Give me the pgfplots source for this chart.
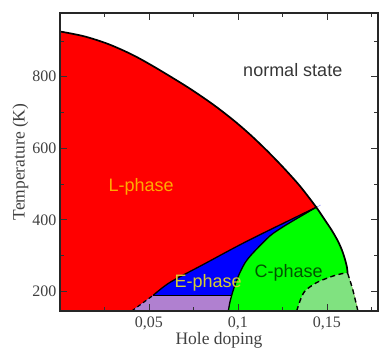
\documentclass[border=0pt]{standalone}
\usepackage{fontspec}
\setmainfont{Liberation Serif}
\newfontfamily\labelsans{Liberation Sans}
\usepackage{pgfplots}
\pgfplotsset{compat=1.18}
\definecolor{lorange}{RGB}{255,170,0}
\definecolor{eyellow}{RGB}{215,205,50}
\definecolor{cgreen}{RGB}{0,85,0}
\definecolor{purp}{RGB}{176,128,208}
\definecolor{lgreen}{RGB}{128,226,128}
\definecolor{pgreen}{RGB}{0,255,0}
\definecolor{nstate}{RGB}{55,55,55}
\begin{document}
\begin{tikzpicture}
\useasboundingbox (-60pt,-38pt) rectangle (319pt,311pt);
\begin{axis}[
  scale only axis, width=318pt, height=298pt,
  xmin=0, xmax=0.1787, ymin=145, ymax=978,
  axis on top,
  xtick={0.05,0.1,0.15}, xticklabels={{0,05},{0,1},{0,15}},
  minor xtick={0.025,0.075,0.125,0.175},
  ytick={200,400,600,800}, yticklabels={200,400,600,800},
  minor ytick={300,500,700,900},
  tick align=inside, xtick pos=both, ytick pos=both,
  major tick length=7pt, minor tick length=4pt,
  every tick/.style={black!80, line width=0.8pt},
  axis line style={black!85, line width=1.3pt},
  /pgf/number format/assume math mode=true,
  tick label style={font=\rmfamily\fontsize{16}{18}\selectfont, text=black!75, inner sep=0pt},
  yticklabel style={anchor=east, xshift=-3.5pt},
  xticklabel style={anchor=north, yshift=-6pt},
  xlabel={Hole doping}, ylabel={Temperature (K)},
  label style={font=\rmfamily\fontsize{17.5}{19}\selectfont, text=black!75, inner sep=0pt},
  xlabel style={at={(axis description cs:0.5,-0.114)}, anchor=base},
  ylabel style={at={(axis description cs:-0.111,0.5)}, anchor=base},
]
% red L-phase (whole dome)
\addplot[fill=red, draw=none, smooth] coordinates {
 (0.1674,130) (-0.01,130) (-0.01,130) (-0.01,926.4) (-0.01,926.4)
 (0,926.4) (0.01348,913.0) (0.02697,891.5) (0.04045,861.8) (0.05337,826.3)
 (0.07191,770.1) (0.08596,722.5) (0.09719,679.5) (0.10674,638.6) (0.11612,594.1)
 (0.12528,547.2) (0.13483,494.3) (0.1440,435)
 (0.14888,399.2) (0.15281,369.8) (0.15618,340.4) (0.15843,315.3) (0.16011,290.1)
 (0.16124,267.8) (0.16163,250.9) (0.16163,250.9)
 (0.1645,205) (0.1674,145) (0.1674,130)} -- cycle;
% blue E-phase
\addplot[fill=blue, draw=none, smooth] coordinates {
 (0.0403,145) (0.0524,189) (0.0524,189) (0.0618,225) (0.0805,275) (0.1058,342) (0.1440,435) (0.1440,435)
 (0.1326,402) (0.1253,380) (0.1180,355) (0.1084,307) (0.1039,279) (0.1000,240)
 (0.0972,200.8) (0.0955,170) (0.0946,145)} -- cycle;
% purple
\addplot[fill=purp, draw=none] coordinates {
 (0.0403,145) (0.0524,189) (0.0965,189) (0.0955,170) (0.0946,145)} -- cycle;
% green C-phase
\addplot[fill=pgreen, draw=none, smooth] coordinates {
 (0.0946,145) (0.0955,170) (0.0972,200.8) (0.1000,240) (0.1039,279) (0.1084,307)
 (0.1180,355) (0.1253,380) (0.1326,402) (0.1440,435) (0.1440,435)
 (0.14888,399.2) (0.15281,369.8) (0.15618,340.4) (0.15843,315.3) (0.16011,290.1)
 (0.16124,267.8) (0.16163,250.9) (0.16163,250.9)
 (0.1645,205) (0.1674,145)} -- cycle;
% light green
\addplot[fill=lgreen, draw=none, smooth] coordinates {
 (0.1330,145) (0.1350,175) (0.1375,200) (0.1421,218) (0.1461,229) (0.1536,243)
 (0.1590,250) (0.16163,250.9) (0.16163,250.9) (0.1645,205) (0.1674,145)} -- cycle;
% outer boundary
\addplot[black, line width=1.7pt, smooth] coordinates {
 (0,926.4) (0.01348,913.0) (0.02697,891.5) (0.04045,861.8) (0.05337,826.3)
 (0.07191,770.1) (0.08596,722.5) (0.09719,679.5) (0.10674,638.6) (0.11612,594.1)
 (0.12528,547.2) (0.13483,494.3) (0.1440,435)
 (0.14888,399.2) (0.15281,369.8) (0.15618,340.4) (0.15843,315.3) (0.16011,290.1)
 (0.16124,267.8) (0.16163,250.9)};
% L/E boundary
\addplot[black, line width=1.3pt, smooth] coordinates {
 (0.0524,189) (0.0618,225) (0.0805,275) (0.1058,342) (0.1440,435)};
\addplot[black, line width=1.2pt, dash pattern=on 4pt off 3pt] coordinates {
 (0.0403,145) (0.0524,189)};
% horizontal E/purple
\addplot[black, line width=1.2pt] coordinates {(0.0524,189) (0.0965,189)};
% E/C arc
\addplot[black, line width=1.3pt, smooth] coordinates {
 (0.1440,435) (0.1326,402) (0.1253,380) (0.1180,355) (0.1084,307) (0.1039,279)
 (0.1000,240) (0.0972,200.8) (0.0955,170) (0.0946,145)};
% dashed dome
\addplot[black, line width=1.4pt, dash pattern=on 5pt off 3.5pt, smooth] coordinates {
 (0.1330,145) (0.1350,175) (0.1375,200) (0.1421,218) (0.1461,229) (0.1536,243)
 (0.1590,250) (0.16163,250.9)};
\addplot[black, line width=1.4pt, dash pattern=on 5pt off 3.5pt, smooth] coordinates {
 (0.16163,250.9) (0.1645,205) (0.1674,145)};
% labels
\node[font=\labelsans\fontsize{18}{20}\selectfont, text=nstate, anchor=base] at (axis cs:0.1308,800) {normal state};
\node[font=\labelsans\fontsize{18}{20}\selectfont, text=lorange, anchor=base] at (axis cs:0.0456,478) {L-phase};
\node[font=\labelsans\fontsize{18}{20}\selectfont, text=eyellow, anchor=base] at (axis cs:0.0833,212) {E-phase};
\node[font=\labelsans\fontsize{18}{20}\selectfont, text=cgreen, anchor=base] at (axis cs:0.1285,240) {C-phase};
\end{axis}
\end{tikzpicture}
\end{document}
